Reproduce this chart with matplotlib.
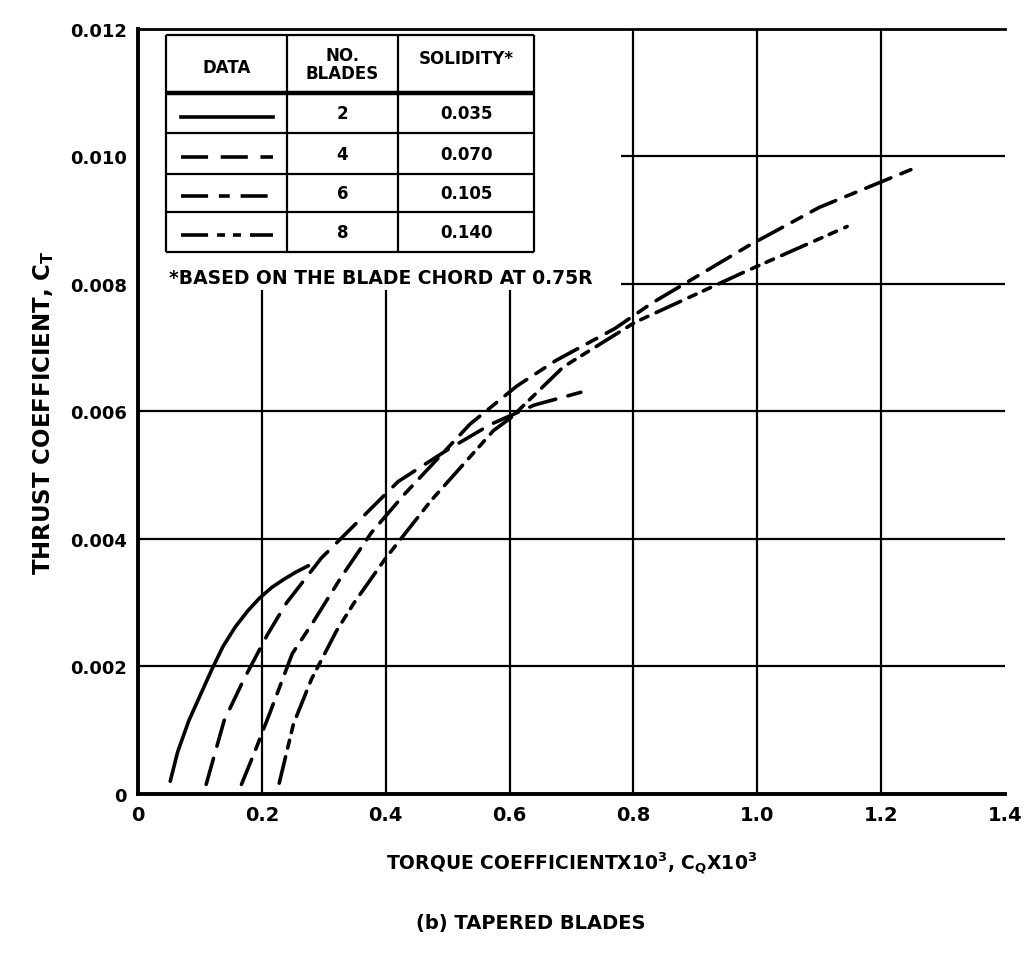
import matplotlib
matplotlib.use("Agg")
import matplotlib.pyplot as plt

# Torque coefficient (x10^3) vs thrust coefficient, tapered blades
cq_2 = [0.052, 0.064, 0.082, 0.100, 0.120, 0.137, 0.157, 0.177, 0.196, 0.216, 0.236, 0.255, 0.275]
ct_2 = [0.0002, 0.00066, 0.00115, 0.00154, 0.00197, 0.00231, 0.00262, 0.00287, 0.00307, 0.00324, 0.00337, 0.00348, 0.00358]

cq_4 = [0.110, 0.139, 0.171, 0.209, 0.240, 0.296, 0.358, 0.420, 0.500, 0.570, 0.640, 0.715]
ct_4 = [0.00015, 0.00115, 0.0018, 0.0025, 0.0030, 0.0037, 0.0043, 0.0049, 0.0054, 0.0058, 0.0061, 0.0063]

cq_6 = [0.167, 0.190, 0.214, 0.249, 0.283, 0.328, 0.377, 0.430, 0.536, 0.612, 0.675, 0.770, 0.830, 0.986, 1.100, 1.250]
ct_6 = [0.00015, 0.0007, 0.0013, 0.0022, 0.0027, 0.0034, 0.0041, 0.0047, 0.0058, 0.0064, 0.0068, 0.0073, 0.0077, 0.0086, 0.0092, 0.0098]

cq_8 = [0.228, 0.251, 0.280, 0.320, 0.349, 0.400, 0.473, 0.574, 0.602, 0.687, 0.803, 0.982, 1.145]
ct_8 = [0.00017, 0.0011, 0.0018, 0.00255, 0.0030, 0.0037, 0.0046, 0.0057, 0.0059, 0.0067, 0.0074, 0.0082, 0.0089]

blade_counts = ["2", "4", "6", "8"]
solidities = ["0.035", "0.070", "0.105", "0.140"]

x_ticks = [0, 0.2, 0.4, 0.6, 0.8, 1.0, 1.2, 1.4]
x_tick_labels = ["0", "0.2", "0.4", "0.6", "0.8", "1.0", "1.2", "1.4"]
y_ticks = [0, 0.002, 0.004, 0.006, 0.008, 0.010, 0.012]
y_tick_labels = ["0", "0.002", "0.004", "0.006", "0.008", "0.010", "0.012"]

# dash patterns (in multiples of line width)
styles = [
    dict(linestyle="-"),
    dict(linestyle=(0, (7.5, 3.5))),
    dict(linestyle=(0, (7.5, 3.0, 3.0, 3.0))),
    dict(linestyle=(0, (7.5, 2.5, 2.2, 2.2, 2.2, 2.5))),
]
series = [(cq_2, ct_2), (cq_4, ct_4), (cq_6, ct_6), (cq_8, ct_8)]

plt.rcParams["font.family"] = ["DejaVu Sans"]
plt.rcParams["font.weight"] = "bold"
plt.rcParams["mathtext.default"] = "bf"

fig = plt.figure(figsize=(10.34, 9.54), dpi=100)
ax = fig.add_axes([0.1335, 0.1667, 0.8385, 0.802])
ax.set_xlim(0, 1.4)
ax.set_ylim(0, 0.012)

for side in ["left", "bottom"]:
    ax.spines[side].set_linewidth(2.8)
ax.spines["top"].set_linewidth(2.0)
ax.spines["right"].set_visible(False)

# grid, left clear of the table block in the upper left
clear_x, clear_y = 0.78, 0.0079
grid_kw = dict(color="black", lw=1.6, solid_capstyle="butt", zorder=1)
for x in x_ticks[1:-1]:
    top = clear_y if x < clear_x else 0.012
    ax.plot([x, x], [0, top], **grid_kw)
for y in y_ticks[1:-1]:
    start = clear_x if y >= clear_y else 0
    ax.plot([start, 1.4], [y, y], **grid_kw)

for (cq, ct), st in zip(series, styles):
    ax.plot(cq, ct, color="black", lw=2.6, dash_capstyle="round",
            solid_capstyle="round", solid_joinstyle="round",
            dash_joinstyle="round", zorder=3, **st)

ax.set_xticks(x_ticks)
ax.set_xticklabels(x_tick_labels, fontsize=14)
ax.set_yticks(y_ticks)
ax.set_yticklabels(y_tick_labels, fontsize=13)
ax.tick_params(length=0, pad=8)

ax.set_xlabel(r"TORQUE COEFFICIENTX10$^{3}$, C$_{Q}$X10$^{3}$",
              fontsize=13.5, fontweight="bold", labelpad=18)
ax.set_ylabel(r"THRUST COEFFICIENT, C$_{T}$", fontsize=16.5, fontweight="bold", labelpad=10)
fig.text(0.513, 0.032, "(b) TAPERED BLADES", ha="center", va="center",
         fontsize=14, fontweight="bold")

# key table
col_x = [0.045, 0.24, 0.42, 0.64]
row_y = [0.0119, 0.01099, 0.01036, 0.00973, 0.00913, 0.0085]
tab_kw = dict(color="black", lw=1.6, solid_capstyle="butt", zorder=4)
for x in col_x:
    ax.plot([x, x], [row_y[0], row_y[-1]], **tab_kw)
for i, y in enumerate(row_y):
    ax.plot([col_x[0], col_x[-1]], [y, y], **dict(tab_kw, lw=3.2 if i == 1 else 1.6))

head_y = (row_y[0] + row_y[1]) / 2
ax.text((col_x[0] + col_x[1]) / 2, head_y - 0.00005, "DATA", ha="center", va="center", fontsize=12)
ax.text((col_x[1] + col_x[2]) / 2, head_y, "NO.\nBLADES", ha="center", va="center",
        fontsize=12, linespacing=1.0)
ax.text((col_x[2] + col_x[3]) / 2, head_y + 0.0001, "SOLIDITY*", ha="center", va="center", fontsize=12)

for i, (n, s) in enumerate(zip(blade_counts, solidities)):
    yc = (row_y[i + 1] + row_y[i + 2]) / 2
    ax.plot([col_x[0] + 0.025, col_x[1] - 0.022], [yc - 0.00005, yc - 0.00005],
            color="black", lw=2.6, zorder=4, **styles[i])
    ax.text((col_x[1] + col_x[2]) / 2, yc, n, ha="center", va="center", fontsize=12)
    ax.text((col_x[2] + col_x[3]) / 2, yc, s, ha="center", va="center", fontsize=12)

ax.text(col_x[0] + 0.005, 0.0081, "*BASED ON THE BLADE CHORD AT 0.75R",
        ha="left", va="center", fontsize=13.5)

fig.savefig("out.png", dpi=100, facecolor="white")
